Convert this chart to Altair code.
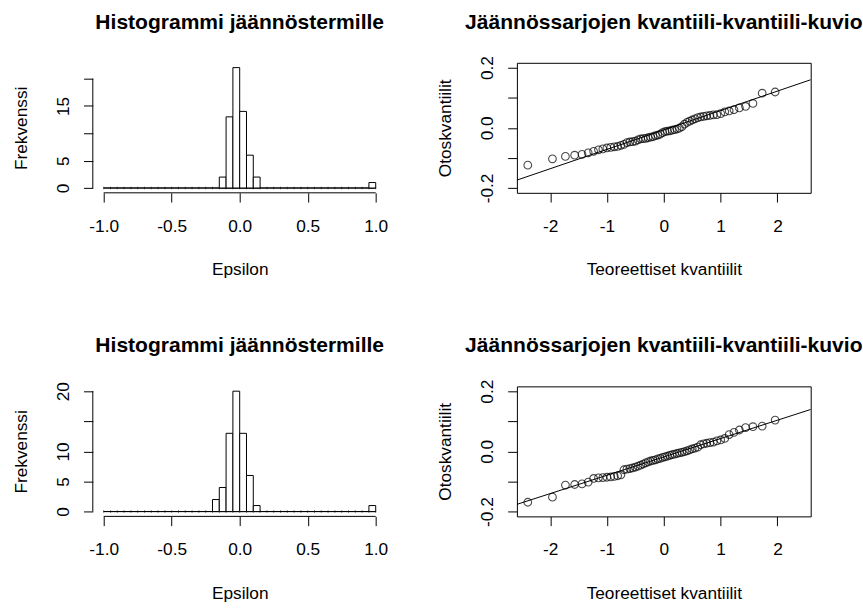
import altair as alt
import numpy as np
import pandas as pd
from statistics import NormalDist

# Residuals of the two fitted models, sorted ascending (n = 60 each)
resid_top = [
    -0.124, -0.103, -0.095, -0.091, -0.088, -0.083, -0.078, -0.073, -0.070, -0.067,
    -0.065, -0.063, -0.062, -0.058, -0.055, -0.049, -0.047, -0.046, -0.044, -0.040,
    -0.037, -0.036, -0.035, -0.033, -0.031, -0.029, -0.026, -0.024, -0.021, -0.016,
    -0.013, -0.011, -0.010, -0.008, -0.006, -0.004, -0.001, 0.004, 0.012, 0.018,
    0.022, 0.026, 0.030, 0.034, 0.036, 0.038, 0.040, 0.041, 0.043, 0.044,
    0.047, 0.053, 0.056, 0.060, 0.066, 0.071, 0.081, 0.115, 0.119, 0.970,
]
resid_bottom = [
    -0.169, -0.152, -0.112, -0.110, -0.108, -0.102, -0.090, -0.088, -0.087, -0.086,
    -0.085, -0.083, -0.081, -0.078, -0.061, -0.059, -0.057, -0.055, -0.052, -0.049,
    -0.046, -0.042, -0.038, -0.035, -0.032, -0.030, -0.028, -0.025, -0.023, -0.020,
    -0.018, -0.016, -0.013, -0.011, -0.009, -0.007, -0.005, -0.003, -0.001, 0.002,
    0.005, 0.008, 0.011, 0.014, 0.022, 0.025, 0.027, 0.029, 0.031, 0.035,
    0.038, 0.043, 0.056, 0.063, 0.071, 0.079, 0.082, 0.084, 0.104, 0.970,
]

hist_title = "Histogrammi jäännöstermille"
qq_title = "Jäännössarjojen kvantiili-kvantiili-kuvio"
hist_xlab = "Epsilon"
hist_ylab = "Frekvenssi"
qq_xlab = "Teoreettiset kvantiilit"
qq_ylab = "Otoskvantiilit"

hist_xticks = [-1.0, -0.5, 0.0, 0.5, 1.0]
hist_yticks = [0, 5, 10, 15, 20]
hist_ylabels_top = [0, 5, 15]
hist_ylabels_bottom = [0, 5, 10, 20]
qq_xticks = [-2, -1, 0, 1, 2]
qq_yticks = [-0.2, -0.1, 0.0, 0.1, 0.2]
qq_ylabels = [-0.2, 0.0, 0.2]

bin_range = [-1.0, 1.0]
bin_step = 0.05
qq_ylim = [-0.2, 0.2]

W, H = 296, 131
FONT = "Liberation Sans"
FS = 17.4
FS_MAIN = 21.2
TICK = 9.3

# plain hyphen-minus for negative tick labels
HYPHEN = "replace(datum.label, '\u2212', '-')"


def pad4(lo, hi):
    d = 0.04 * (hi - lo)
    return [lo - d, hi + d]


def shown(vals):
    return "indexof(" + str(list(vals)) + ", datum.value) >= 0 ? " + HYPHEN + " : ''"


def x_axis(ticks, fmt, title):
    return alt.Axis(values=ticks, format=fmt, title=title, domain=False, grid=False,
                    tickSize=TICK, tickColor="black", labelPadding=29.4,
                    labelBaseline="alphabetic", labelAlign="center",
                    labelExpr=HYPHEN, labelOverlap=False,
                    titleY=82.5, titleX=W / 2, titleBaseline="alphabetic",
                    titleAlign="center")


def y_axis(ticks, fmt, keep, title):
    return alt.Axis(values=ticks, format=fmt, title=title, domain=False, grid=False,
                    tickSize=TICK, tickColor="black", labelAngle=270,
                    labelAlign="center", labelBaseline="alphabetic", labelPadding=15,
                    labelOverlap=False, labelExpr=shown(keep),
                    titleAngle=270, titleX=-66.5, titleY=H / 2,
                    titleBaseline="alphabetic", titleAlign="center")


def main_title(text):
    return alt.Chart(pd.DataFrame({"t": [text]})).mark_text(
        font=FONT, fontSize=FS_MAIN, fontWeight="bold", align="center",
        baseline="alphabetic", color="black",
    ).encode(x=alt.value(W / 2), y=alt.value(-34.3), text="t:N")


def histogram(values, keep):
    df = pd.DataFrame({"e": values})
    counts = np.histogram(values, bins=np.arange(bin_range[0], bin_range[1] + bin_step / 2, bin_step))[0]
    ymax = int(counts.max())
    xs = alt.Scale(domain=pad4(*bin_range), nice=False, zero=False)
    ys = alt.Scale(domain=pad4(0, ymax), nice=False, zero=False)
    xax = x_axis(hist_xticks, ".1f", hist_xlab)
    yax = y_axis(hist_yticks, "d", keep, hist_ylab)

    # every bin of the break grid, drawn flat so empty bins show along the base
    edges = np.linspace(bin_range[0], bin_range[1], int(round((bin_range[1] - bin_range[0]) / bin_step)) + 1)
    empty = pd.DataFrame({"b0": edges[:-1], "b1": edges[1:], "z": 0})
    base_bins = alt.Chart(empty).mark_rect(fill="white", stroke="black", strokeWidth=1).encode(
        x=alt.X("b0:Q", scale=xs, axis=xax),
        x2="b1:Q",
        y=alt.Y("z:Q", scale=ys, axis=yax),
        y2="z:Q",
    )
    seams = alt.Chart(pd.DataFrame({"b": edges, "z": 0})).mark_tick(
        orient="vertical", size=2.5, thickness=1, color="black", opacity=0.6
    ).encode(
        x=alt.X("b:Q", scale=xs, axis=xax),
        y=alt.Y("z:Q", scale=ys, axis=yax),
    )

    bars = alt.Chart(df).transform_bin(
        ["b0", "b1"], "e", bin=alt.Bin(extent=bin_range, step=bin_step, nice=False)
    ).transform_aggregate(n="count()", groupby=["b0", "b1"]).transform_calculate(
        z="0"
    ).mark_rect(fill="white", stroke="black", strokeWidth=1).encode(
        x=alt.X("b0:Q", scale=xs, axis=xax),
        x2="b1:Q",
        y=alt.Y("n:Q", scale=ys, axis=yax),
        y2="z:Q",
    )

    # axis lines spanning only the first to the last tick
    span = pd.DataFrame({"x0": [hist_xticks[0]], "x1": [hist_xticks[-1]],
                         "y0": [hist_yticks[0]], "y1": [hist_yticks[-1]]})
    xline = alt.Chart(span).mark_rule(color="black", strokeWidth=1).encode(
        x=alt.X("x0:Q", scale=xs, axis=xax), x2="x1:Q", y=alt.value(H))
    yline = alt.Chart(span).mark_rule(color="black", strokeWidth=1).encode(
        y=alt.Y("y0:Q", scale=ys, axis=yax), y2="y1:Q", x=alt.value(0))

    return alt.layer(base_bins, seams, bars, xline, yline, main_title(hist_title)).properties(
        width=W, height=H, view=alt.ViewBackground(stroke=None))


def qqplot(values):
    n = len(values)
    nd = NormalDist()
    theo = [nd.inv_cdf((i - 0.5) / n) for i in range(1, n + 1)]
    df = pd.DataFrame({"teo": theo, "otos": sorted(values)})
    xdom = pad4(min(theo), max(theo))
    ydom = pad4(*qq_ylim)
    xs = alt.Scale(domain=xdom, nice=False, zero=False)
    ys = alt.Scale(domain=ydom, nice=False, zero=False)
    xax = x_axis(qq_xticks, "d", qq_xlab)
    yax = y_axis(qq_yticks, ".1f", qq_ylabels, qq_ylab)

    pts = alt.Chart(df).mark_point(shape="circle", filled=False, color="black",
                                   size=60, strokeWidth=1.1, clip=True).encode(
        x=alt.X("teo:Q", scale=xs, axis=xax),
        y=alt.Y("otos:Q", scale=ys, axis=yax),
    )

    # reference line through the first and third quartiles
    q1, q3 = np.quantile(values, [0.25, 0.75])
    z1, z3 = nd.inv_cdf(0.25), nd.inv_cdf(0.75)
    slope = (q3 - q1) / (z3 - z1)
    icpt = q1 - slope * z1
    ldf = pd.DataFrame({"teo": xdom, "otos": [icpt + slope * x for x in xdom]})
    line = alt.Chart(ldf).mark_line(color="black", strokeWidth=1, clip=True).encode(
        x=alt.X("teo:Q", scale=xs, axis=xax),
        y=alt.Y("otos:Q", scale=ys, axis=yax),
    )

    return alt.layer(line, pts, main_title(qq_title)).properties(
        width=W, height=H, view=alt.ViewBackground(stroke="black", strokeWidth=1))


chart = alt.concat(
    histogram(resid_top, hist_ylabels_top), qqplot(resid_top),
    histogram(resid_bottom, hist_ylabels_bottom), qqplot(resid_bottom),
    columns=2, spacing={"row": 195, "column": 131.3}, bounds="flush",
).properties(
    padding={"left": 12.5, "top": 9, "right": 0, "bottom": 0},
    background="white",
).configure_axis(
    labelFont=FONT, labelFontSize=FS, labelColor="black",
    titleFont=FONT, titleFontSize=FS, titleColor="black", titleFontWeight="normal",
).configure_view(stroke=None)

chart.save("out.html", embed_options={"renderer": "svg", "actions": False})
